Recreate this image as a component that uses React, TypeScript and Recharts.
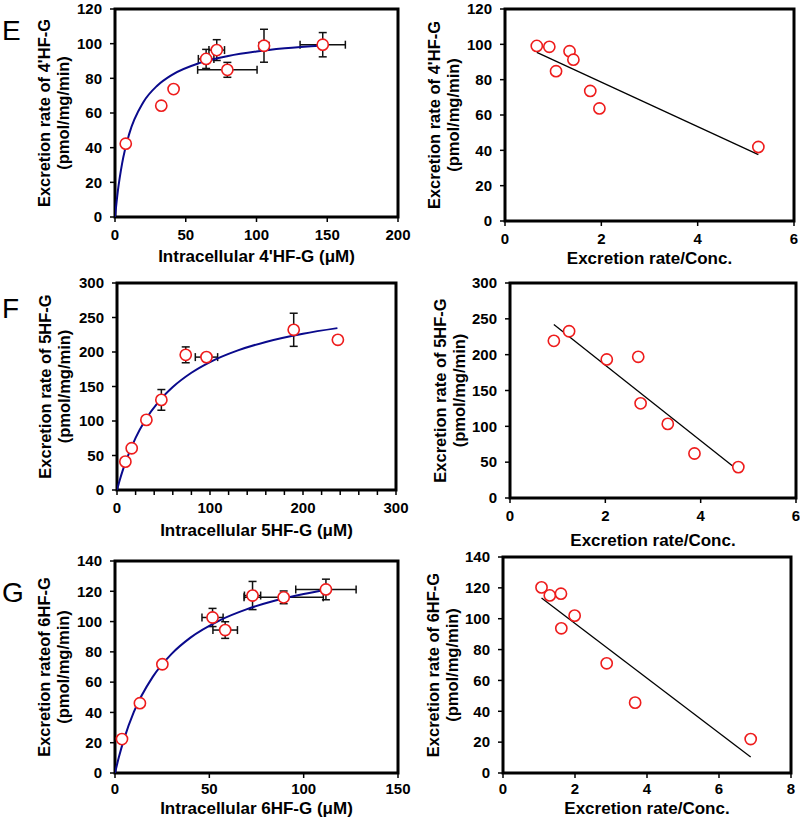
import React from 'react';
import { ScatterChart, Scatter, XAxis, YAxis, ErrorBar, ReferenceArea } from 'recharts';

// ---------- Panel E ----------
const eX = [7.6, 32.7, 41.4, 64.4, 71.9, 79.4, 105.3, 146.8];
const eY = [42.3, 64.2, 73.8, 91.2, 96.3, 84.9, 98.8, 99.4];
const eXErr = [0, 2, 0, 5.5, 5.5, 21, 3.5, 16];
const eYErr = [0, 2, 0, 5.5, 6, 4.3, 9.5, 7];
const eCurveX = [0, 2, 5, 10, 20, 30, 40, 60, 80, 100, 120, 147];
const eCurveY = [0, 14.9, 30.8, 47.8, 66.2, 75.9, 81.9, 88.9, 92.9, 95.5, 97.3, 99.0];
const ehX = [0.66, 0.92, 1.34, 1.42, 1.06, 1.77, 1.96, 5.26];
const ehY = [99.1, 98.6, 96.1, 91.3, 84.8, 73.6, 63.7, 41.9];
const ehLineX = [0.66, 5.26];
const ehLineY = [95.4, 37.6];

// ---------- Panel F ----------
const fX = [9, 15.8, 31.6, 47.7, 73.9, 96.2, 190, 237.5];
const fY = [41.1, 60.5, 101.6, 130.6, 195.9, 192.6, 232.2, 217.7];
const fXErr = [0, 0, 0, 0, 0, 12, 4, 0];
const fYErr = [0, 0, 0, 15, 11.5, 0, 24, 0];
const fCurveX = [0, 3, 6, 10, 20, 30, 45, 60, 80, 100, 130, 160, 200, 237];
const fCurveY = [0, 14.6, 27.7, 43.4, 75.6, 100.3, 128.4, 149.2, 169.9, 185.4, 202.3, 214.6, 226.5, 234.6];
const fhX = [0.92, 1.24, 2.03, 2.69, 2.74, 3.31, 3.87, 4.79];
const fhY = [219.3, 232.7, 193.3, 197, 132.1, 103.4, 62.1, 43.1];
const fhLineX = [0.92, 4.79];
const fhLineY = [242, 38.5];

// ---------- Panel G ----------
const gX = [3.7, 13.2, 25.1, 51.7, 58.4, 72.9, 89.4, 111.8];
const gY = [22.4, 46.1, 71.8, 102.7, 94.4, 117.2, 116, 121.2];
const gXErr = [0, 0, 0, 5.6, 6.5, 4.3, 21, 16];
const gYErr = [0, 0, 0, 6, 5.5, 9.3, 4.2, 6.8];
const gCurveX = [0, 2, 5, 10, 20, 30, 40, 55, 70, 85, 100, 112];
const gCurveY = [0, 10.2, 23.2, 40.3, 63.5, 78.7, 89.4, 100.5, 108.2, 113.9, 118.2, 121.0];
const ghX = [1.07, 1.30, 1.61, 1.99, 1.62, 2.88, 3.67, 6.88];
const ghY = [120.3, 115.1, 116.2, 102, 93.8, 71.1, 45.6, 22.0];
const ghLineX = [1.07, 6.88];
const ghLineY = [113.4, 10.4];

// ---------- Axis ticks ----------
const eLeftXTicks = [0, 50, 100, 150, 200];
const eYTicks = [0, 20, 40, 60, 80, 100, 120];
const ratioTicks6 = [0, 2, 4, 6];
const ratioTicks8 = [0, 2, 4, 6, 8];
const fLeftXLabels = [0, 100, 200, 300];
const fLeftXMinor = [0, 20, 40, 60, 80, 100, 120, 140, 160, 180, 200, 220, 240, 260, 280, 300];
const fYTicks = [0, 50, 100, 150, 200, 250, 300];
const gLeftXTicks = [0, 50, 100, 150];
const gYTicks = [0, 20, 40, 60, 80, 100, 120, 140];

const FONT = '"Liberation Sans", Arial, Helvetica, sans-serif';
const RED = '#ee1c1c';
const NAVY = '#0a0a8c';

type Row = { x: number; y: number; ex?: number; ey?: number };

const rows = (xs: number[], ys: number[], exs?: number[], eys?: number[]): Row[] =>
  xs.map((x, i) => ({ x, y: ys[i], ex: exs ? exs[i] : 0, ey: eys ? eys[i] : 0 }));

const OpenCircle = (props: any) => {
  const { cx, cy } = props;
  if (cx == null || cy == null) return <g />;
  return <circle cx={cx} cy={cy} r={5.6} fill="#fff" stroke={RED} strokeWidth={1.6} />;
};
const NoShape = () => <g />;

type PanelProps = {
  x0: number; y0: number; w: number; h: number;
  plotL: number; plotT: number; plotR: number; plotB: number;
  xDomain: [number, number]; xTicks: number[]; xLabels?: number[];
  yDomain: [number, number]; yTicks: number[];
  points: Row[]; line: Row[]; lineColor: string; lineWidth: number; smooth: boolean;
  withErr: boolean; xTickMargin?: number;
};

const Panel = (p: PanelProps) => {
  const margin = { top: p.plotT - p.y0, right: p.x0 + p.w - p.plotR, left: 0, bottom: 0 };
  const yW = p.plotL - p.x0;
  const xH = p.y0 + p.h - p.plotB;
  const tickStyle = { fontSize: 15, fontWeight: 'bold', fill: '#000', fontFamily: FONT };
  const labels = p.xLabels;
  const fmt = labels ? (v: number) => (labels.includes(v) ? String(v) : '') : undefined;
  return (
    <div style={{ position: 'absolute', left: p.x0, top: p.y0, width: p.w, height: p.h }}>
      <ScatterChart width={p.w} height={p.h} margin={margin} style={{ overflow: 'visible' }}>
        <XAxis
          type="number" dataKey="x" domain={p.xDomain} ticks={p.xTicks} interval={0}
          height={xH} axisLine={false} tickLine={{ stroke: '#000', strokeWidth: 1.5 }}
          tickSize={5} tickMargin={p.xTickMargin ?? 7} tick={tickStyle} allowDataOverflow tickFormatter={fmt}
        />
        <YAxis
          type="number" dataKey="y" domain={p.yDomain} ticks={p.yTicks} interval={0}
          width={yW} axisLine={false} tickLine={{ stroke: '#000', strokeWidth: 1.5 }}
          tickSize={5} tickMargin={8} tick={tickStyle} allowDataOverflow
        />
        <ReferenceArea
          x1={p.xDomain[0]} x2={p.xDomain[1]} y1={p.yDomain[0]} y2={p.yDomain[1]}
          fill="none" fillOpacity={0} stroke="#000" strokeWidth={3} ifOverflow="visible"
        />
        <Scatter
          data={p.line} shape={NoShape} line={{ stroke: p.lineColor, strokeWidth: p.lineWidth }}
          lineType="joint" lineJointType={p.smooth ? 'monotoneX' : 'linear'}
          isAnimationActive={false}
        />
        <Scatter data={p.points} shape={OpenCircle} isAnimationActive={false}>
          {p.withErr && (
            <ErrorBar dataKey="ex" direction="x" width={4} stroke="#111" strokeWidth={1.5} />
          )}
          {p.withErr && (
            <ErrorBar dataKey="ey" direction="y" width={4} stroke="#111" strokeWidth={1.5} />
          )}
        </Scatter>
      </ScatterChart>
    </div>
  );
};

type TitleSpec = {
  plotL: number; plotT: number; plotR: number; plotB: number;
  y1: string; y2: string; x: string; xBase: number; off1: number; off2: number;
};

const titles: TitleSpec[] = [
  { plotL: 115, plotT: 9, plotR: 398, plotB: 217, y1: "Excretion rate of 4'HF-G", y2: '(pmol/mg/min)', x: "Intracellular 4'HF-G (\u03bcM)", xBase: 262, off1: 71, off2: 52 },
  { plotL: 505, plotT: 9, plotR: 794, plotB: 221, y1: "Excretion rate of 4'HF-G", y2: '(pmol/mg/min)', x: 'Excretion rate/Conc.', xBase: 264, off1: 71, off2: 52 },
  { plotL: 117, plotT: 283, plotR: 396, plotB: 490, y1: 'Excretion rate of 5HF-G', y2: '(pmol/mg/min)', x: 'Intracellular 5HF-G (\u03bcM)', xBase: 536, off1: 72, off2: 53 },
  { plotL: 510, plotT: 283, plotR: 796, plotB: 498, y1: 'Excretion rate of 5HF-G', y2: '(pmol/mg/min)', x: 'Excretion rate/Conc.', xBase: 546, off1: 70, off2: 51 },
  { plotL: 115, plotT: 561, plotR: 398, plotB: 773, y1: 'Excretion rateof 6HF-G', y2: '(pmol/mg/min)', x: 'Intracellular 6HF-G (\u03bcM)', xBase: 814, off1: 71, off2: 52 },
  { plotL: 503, plotT: 557, plotR: 791, plotB: 773, y1: 'Excretion rate of 6HF-G', y2: '(pmol/mg/min)', x: 'Excretion rate/Conc.', xBase: 814, off1: 70, off2: 51 },
];

const letters = [
  { t: 'E', x: 2, y: 40 },
  { t: 'F', x: 2, y: 318 },
  { t: 'G', x: 2, y: 602 },
];

export default function App() {
  return (
    <div style={{ position: 'absolute', left: 0, top: 0, width: 800, height: 820, background: '#fff', overflow: 'hidden' }}>
      <style>{'.recharts-surface{overflow:visible}.recharts-wrapper{overflow:visible}'}</style>
      <Panel x0={0} y0={0} w={400} h={270} plotL={115} plotT={9} plotR={398} plotB={217}
        xDomain={[0, 200]} xTicks={eLeftXTicks} yDomain={[0, 120]} yTicks={eYTicks}
        points={rows(eX, eY, eXErr, eYErr)} line={rows(eCurveX, eCurveY)} lineColor={NAVY} lineWidth={2} smooth withErr />
      <Panel x0={400} y0={0} w={400} h={270} plotL={505} plotT={9} plotR={794} plotB={221}
        xDomain={[0, 6]} xTicks={ratioTicks6} yDomain={[0, 120]} yTicks={eYTicks}
        points={rows(ehX, ehY)} line={rows(ehLineX, ehLineY)} lineColor="#000" lineWidth={1.3} smooth={false} withErr={false} />
      <Panel x0={0} y0={270} w={400} h={270} plotL={117} plotT={283} plotR={396} plotB={490}
        xDomain={[0, 300]} xTicks={fLeftXMinor} xLabels={fLeftXLabels} yDomain={[0, 300]} yTicks={fYTicks}
        points={rows(fX, fY, fXErr, fYErr)} line={rows(fCurveX, fCurveY)} lineColor={NAVY} lineWidth={2} smooth withErr />
      <Panel x0={400} y0={270} w={400} h={270} plotL={510} plotT={283} plotR={796} plotB={498}
        xDomain={[0, 6]} xTicks={ratioTicks6} yDomain={[0, 300]} yTicks={fYTicks}
        points={rows(fhX, fhY)} line={rows(fhLineX, fhLineY)} lineColor="#000" lineWidth={1.3} smooth={false} withErr={false} />
      <Panel x0={0} y0={540} w={400} h={280} plotL={115} plotT={561} plotR={398} plotB={773}
        xDomain={[0, 150]} xTicks={gLeftXTicks} yDomain={[0, 140]} yTicks={gYTicks} xTickMargin={5}
        points={rows(gX, gY, gXErr, gYErr)} line={rows(gCurveX, gCurveY)} lineColor={NAVY} lineWidth={2} smooth withErr />
      <Panel x0={400} y0={540} w={400} h={280} plotL={503} plotT={557} plotR={791} plotB={773}
        xDomain={[0, 8]} xTicks={ratioTicks8} yDomain={[0, 140]} yTicks={gYTicks} xTickMargin={5}
        points={rows(ghX, ghY)} line={rows(ghLineX, ghLineY)} lineColor="#000" lineWidth={1.3} smooth={false} withErr={false} />

      <svg width={800} height={820} style={{ position: 'absolute', left: 0, top: 0, pointerEvents: 'none' }}>
        {letters.map((l) => (
          <text key={l.t} x={l.x} y={l.y} fontSize={28} fontFamily={FONT} fill="#000">{l.t}</text>
        ))}
        {titles.map((t, i) => {
          const cy = (t.plotT + t.plotB) / 2;
          const cx = (t.plotL + t.plotR) / 2;
          const a = t.plotL - t.off1;
          const b = t.plotL - t.off2;
          return (
            <g key={i} fontFamily={FONT} fontWeight="bold" fill="#000">
              <text x={a} y={cy} fontSize={16.5} textAnchor="middle" dominantBaseline="central" transform={`rotate(-90 ${a} ${cy})`}>{t.y1}</text>
              <text x={b} y={cy} fontSize={16.5} textAnchor="middle" dominantBaseline="central" transform={`rotate(-90 ${b} ${cy})`}>{t.y2}</text>
              <text x={cx} y={t.xBase} fontSize={17} textAnchor="middle">{t.x}</text>
            </g>
          );
        })}
      </svg>
    </div>
  );
}
